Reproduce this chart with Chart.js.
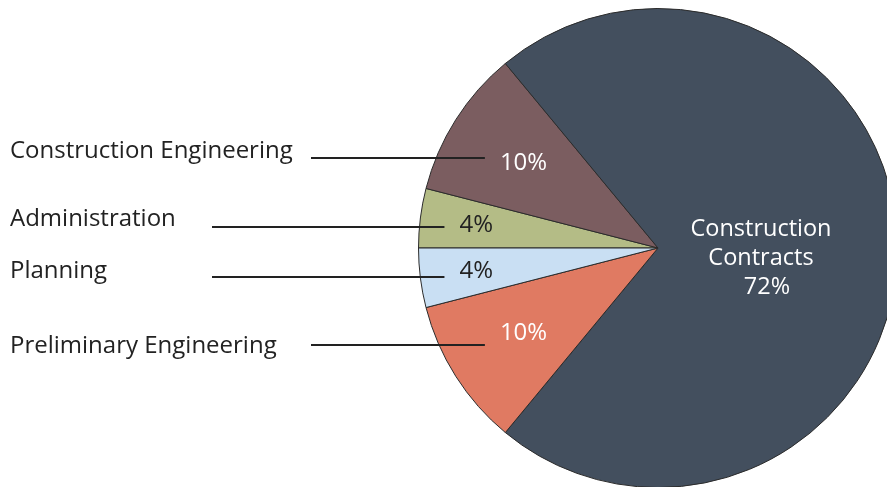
<!DOCTYPE html>
<html lang="en">
<head>
<meta charset="UTF-8">
<title>Cost breakdown</title>
<script src="https://cdn.jsdelivr.net/npm/chart.js"></script>
<style>
  html, body { margin: 0; padding: 0; background: #fff; overflow: hidden; }
  #wrap { position: absolute; left: 0; top: 0; width: 898px; height: 496px; }
</style>
</head>
<body>
<div id="wrap"><canvas id="pie" width="898" height="496"></canvas></div>
<script>
// Slices in clockwise order, starting at the 9 o'clock position
const labels = ['Administration', 'Construction Engineering', 'Construction Contracts', 'Preliminary Engineering', 'Planning'];
const shares = [4, 10, 72, 10, 4];
const sliceColors = ['#B4BC86', '#7B5D60', '#434F5E', '#E07A62', '#C9DFF3'];
const percentText = ['4%', '10%', '72%', '10%', '4%'];

// Left side callouts (null = label sits inside the slice)
const callouts = [
  { text: 'Administration', y: 226, lineY: 227, lineX: 212 },
  { text: 'Construction Engineering', y: 158, lineY: 158, lineX: 311 },
  null,
  { text: 'Preliminary Engineering', y: 353, lineY: 345, lineX: 311 },
  { text: 'Planning', y: 278, lineY: 277, lineX: 212 }
];

const FONT = '"Open Sans", "Noto Sans", sans-serif';

const labelPlugin = {
  id: 'sliceLabels',
  afterDatasetsDraw(chart) {
    const ctx = chart.ctx;
    const arcs = chart.getDatasetMeta(0).data;
    ctx.save();
    arcs.forEach((arc, i) => {
      const p = arc.getProps(['x', 'y', 'startAngle', 'endAngle', 'outerRadius'], true);
      const mid = (p.startAngle + p.endAngle) / 2;
      const light = i === 0 || i === 4;
      const dist = shares[i] > 50 ? 0.43 : (shares[i] < 6 ? 0.765 : 0.665);
      const tx = p.x + Math.cos(mid) * p.outerRadius * dist;
      const ty = p.y + Math.sin(mid) * p.outerRadius * dist;

      ctx.textAlign = 'center';
      ctx.textBaseline = 'middle';
      if (i === 2) {
        ctx.fillStyle = '#ffffff';
        ctx.font = '23.5px ' + FONT;
        ctx.fillText('Construction', tx, ty - 19);
        ctx.fillText('Contracts', tx, ty + 10);
        ctx.fillText(percentText[i], tx + 6, ty + 39);
      } else {
        ctx.fillStyle = light ? '#222222' : '#ffffff';
        ctx.font = '24px ' + FONT;
        ctx.fillText(percentText[i], tx, ty);
        const w = ctx.measureText(percentText[i]).width;

        const c = callouts[i];
        ctx.font = '24px ' + FONT;
        ctx.textAlign = 'left';
        ctx.textBaseline = 'alphabetic';
        ctx.fillStyle = '#222222';
        ctx.fillText(c.text, 10, c.y);

        ctx.strokeStyle = '#222222';
        ctx.lineWidth = 2;
        ctx.beginPath();
        ctx.moveTo(c.lineX, c.lineY);
        ctx.lineTo(tx - w / 2 - 15, c.lineY);
        ctx.stroke();
      }
    });
    ctx.restore();
  }
};

new Chart(document.getElementById('pie'), {
  type: 'pie',
  data: {
    labels: labels,
    datasets: [{
      data: shares,
      backgroundColor: sliceColors,
      borderColor: '#2b2b2b',
      borderWidth: 1
    }]
  },
  options: {
    responsive: false,
    animation: false,
    rotation: 270,
    layout: { padding: { left: 418, top: 8, right: 0, bottom: 8 } },
    plugins: {
      legend: { display: false },
      tooltip: { enabled: false }
    }
  },
  plugins: [labelPlugin]
});
</script>
</body>
</html>
